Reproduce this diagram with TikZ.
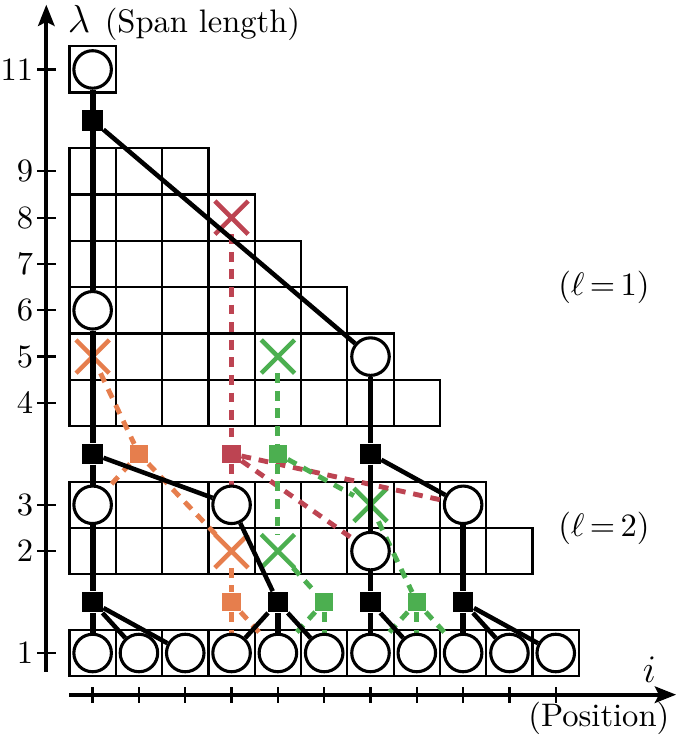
\documentclass[tikz,border=0pt]{standalone}
\usetikzlibrary{arrows.meta,shapes.misc}
\definecolor{cor}{HTML}{E67E4D}
\definecolor{cred}{HTML}{BD4452}
\definecolor{cgreen}{HTML}{4CAF50}
\pgfdeclarelayer{gridlayer}
\pgfdeclarelayer{crosslayer}
\pgfdeclarelayer{edgelayer}
\pgfsetlayers{gridlayer,crosslayer,edgelayer,main}
\begin{document}
\begin{tikzpicture}[x=0.5cm,y=0.5cm,
  cell/.style={draw, line width=0.7pt},
  circ/.style={circle, draw, fill=white, line width=0.95pt, minimum size=0.405cm, inner sep=0pt},
  bsq/.style={rectangle, fill=black, minimum size=0.22cm, inner sep=0pt},
  csq/.style={rectangle, fill=#1, minimum size=0.2cm, inner sep=0pt},
  xmark/.style={cross out, draw=#1, line width=1.4pt, minimum size=0.31cm, inner sep=0pt},
  vline/.style={line width=1.8pt},
  dline/.style={line width=1.4pt},
  cdash/.style={draw=#1, line width=1.5pt, dash pattern=on 3pt off 2.4pt},
  axisline/.style={line width=1.3pt, -{Stealth[length=6.5pt,width=5pt,inset=1.2pt]}},
  tickmark/.style={line width=0.7pt},
]
\useasboundingbox (-1.0,-1.9) rectangle (14.0,14.1);

% grid
\begin{pgfonlayer}{gridlayer}
\draw[cell] (0.5,12.1) rectangle (1.5,13.1);
\foreach \l in {4,...,9} {
  \pgfmathtruncatemacro\n{12-\l}
  \foreach \i in {1,...,\n} \draw[cell] (\i-0.5,\l+0.9) rectangle (\i+0.5,\l+1.9);
}
\foreach \l in {2,3} {
  \pgfmathtruncatemacro\n{12-\l}
  \foreach \i in {1,...,\n} \draw[cell] (\i-0.5,\l-0.3) rectangle (\i+0.5,\l+0.7);
}
\foreach \i in {1,...,11} \draw[cell] (\i-0.5,-0.5) rectangle (\i+0.5,0.5);
\end{pgfonlayer}

% axes
\coordinate (yb) at (0,-0.4);
\coordinate (yt) at (0,14.0);
\draw[axisline] (yb) -- (yt);
\coordinate (xl) at (0.5,-0.9);
\coordinate (xr) at (13.6,-0.9);
\draw[axisline] (xl) -- (xr);
\foreach \i in {1,...,11} \draw[tickmark] (\i,-0.74) -- (\i,-1.08);
\foreach \l/\y in {1/0,2/2.2,3/3.2,4/5.4,5/6.4,6/7.4,7/8.4,8/9.4,9/10.4,11/12.6} {
  \draw[tickmark] (-0.2,\y) -- (0.2,\y);
  \node[anchor=east, inner sep=0pt] (yl\l) at (-0.27,\y) {\l};
}
\node[anchor=base west, inner sep=0pt] (ylab) at (0.45,13.4) {{\large$\lambda$}\hspace{4.5pt}(Span length)};
\node (xlab) at (13.02,-0.35) {\large$i$};
\node (xlab2) at (11.93,-1.41) {(Position)};
\node (lab1) at (12.04,7.9) {$(\ell\,{=}\,1)$};
\node (lab2) at (12.04,2.69) {$(\ell\,{=}\,2)$};

% crosses
\begin{pgfonlayer}{crosslayer}
\node[xmark=cor] (xo1) at (1,6.4) {};
\node[xmark=cred] (xr1) at (4,9.4) {};
\node[xmark=cgreen] (xg1) at (5,6.4) {};
\node[xmark=cor] (xo2) at (4,2.2) {};
\node[xmark=cgreen] (xg2) at (5,2.2) {};
\node[xmark=cgreen] (xg3) at (7,3.2) {};
\end{pgfonlayer}

% nodes
\node[circ] (c11) at (1,12.6) {};
\node[bsq] (s0) at (1,11.5) {};
\node[circ] (c6) at (1,7.4) {};
\node[circ] (c5) at (7,6.4) {};
\node[bsq] (s1a) at (1,4.3) {};
\node[bsq] (s1b) at (7,4.3) {};
\node[csq=cor] (so1) at (2,4.3) {};
\node[csq=cred] (sr1) at (4,4.3) {};
\node[csq=cgreen] (sg1) at (5,4.3) {};
\node[circ] (c3a) at (1,3.2) {};
\node[circ] (c3b) at (4,3.2) {};
\node[circ] (c3c) at (9,3.2) {};
\node[circ] (c2a) at (7,2.2) {};
\node[bsq] (s2a) at (1,1.1) {};
\node[bsq] (s2b) at (5,1.1) {};
\node[bsq] (s2c) at (7,1.1) {};
\node[bsq] (s2d) at (9,1.1) {};
\node[csq=cor] (so2) at (4,1.1) {};
\node[csq=cgreen] (sg2) at (6,1.1) {};
\node[csq=cgreen] (sg3) at (8,1.1) {};
\foreach \i in {1,...,11} \node[circ] (b\i) at (\i,0) {};

\begin{pgfonlayer}{edgelayer}
% coloured dashed
\draw[cdash=cor] (xo1) -- (so1);
\draw[cdash=cor] (so1) -- (c3a);
\draw[cdash=cor] (so1) -- (xo2);
\draw[cdash=cor] (xo2) -- (so2);
\draw[cdash=cor] (so2) -- (b4);
\draw[cdash=cor] (so2) -- (b5);
\draw[cdash=cred] (xr1) -- (sr1);
\draw[cdash=cred] (sr1) -- (c3b);
\draw[cdash=cred] (sr1) -- (c2a);
\draw[cdash=cred] (sr1) -- (c3c);
\draw[cdash=cgreen] (xg1) -- (sg1);
\draw[cdash=cgreen] (sg1) -- (xg2);
\draw[cdash=cgreen] (sg1) -- (xg3);
\draw[cdash=cgreen] (xg2) -- (sg2);
\draw[cdash=cgreen] (sg2) -- (b5);
\draw[cdash=cgreen] (sg2) -- (b6);
\draw[cdash=cgreen] (xg3) -- (sg3);
\draw[cdash=cgreen] (sg3) -- (b7);
\draw[cdash=cgreen] (sg3) -- (b8);
\draw[cdash=cgreen] (sg3) -- (b9);
% black tree
\draw[vline] (c11) -- (s0);
\draw[vline] (s0) -- (c6);
\draw[dline] (s0) -- (c5);
\draw[vline] (c6) -- (s1a);
\draw[vline] (s1a) -- (c3a);
\draw[dline] (s1a) -- (c3b);
\draw[vline] (c5) -- (s1b);
\draw[vline] (s1b) -- (c2a);
\draw[dline] (s1b) -- (c3c);
\draw[vline] (c3a) -- (s2a);
\draw[vline] (s2a) -- (b1);
\draw[dline] (s2a) -- (b2);
\draw[dline] (s2a) -- (b3);
\draw[dline] (c3b) -- (s2b);
\draw[dline] (s2b) -- (b4);
\draw[vline] (s2b) -- (b5);
\draw[dline] (s2b) -- (b6);
\draw[vline] (c2a) -- (s2c);
\draw[vline] (s2c) -- (b7);
\draw[dline] (s2c) -- (b8);
\draw[vline] (c3c) -- (s2d);
\draw[vline] (s2d) -- (b9);
\draw[dline] (s2d) -- (b10);
\draw[dline] (s2d) -- (b11);
\end{pgfonlayer}
\end{tikzpicture}
\end{document}
